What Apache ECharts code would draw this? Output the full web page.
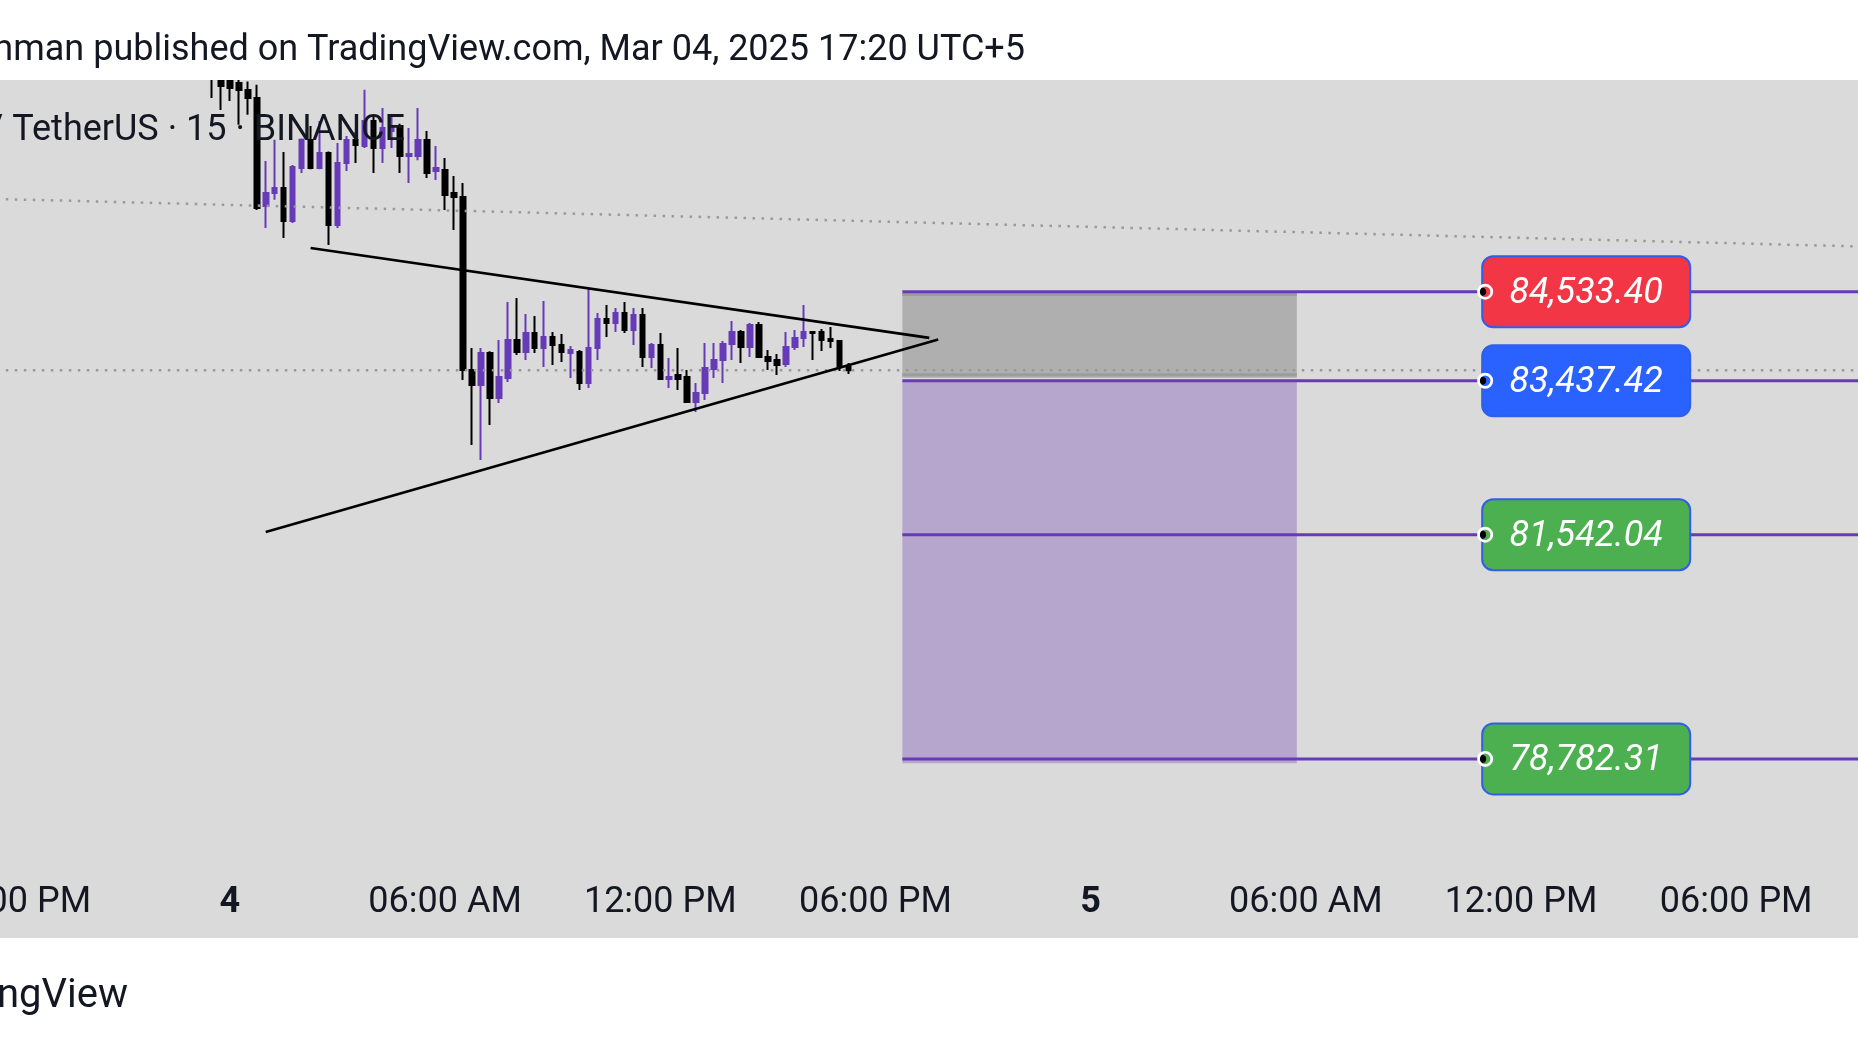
<!DOCTYPE html>
<html><head><meta charset="utf-8">
<script src="https://cdn.jsdelivr.net/npm/echarts@6/dist/echarts.min.js"></script>
<style>html,body{margin:0;padding:0;background:#fff;overflow:hidden}#c{width:1858px;height:1044px;}</style>
</head><body><div id="c"></div>
<script>
const FONT = 'Roboto, "Noto Sans", sans-serif';
const TEXT = '#131722';
// 15-minute slots of the time axis (exchange time UTC+5)
const slotStart = '2025-03-03 17:15';
const slotCount = 210;
// candles: [open, close, low, high], consecutive 15-min bars from candleStart
const candleStart = '2025-03-03 23:30';
const candles = [
  [87700,87350,86918,87800],[87400,87066,86770,87500],[87300,87041,86881,87380],[87102,87016,86589,87250],
  [87016,86918,86712,87120],[86918,85564,85539,87082],[85588,85748,85318,86142],[85748,85810,85666,86405],
  [85810,85404,85194,86253],[85404,86068,85380,86093],[86056,86405,85995,86420],[86401,86056,86040,86573],
  [86056,86241,86040,86635],[86241,85354,85108,86260],[85354,86118,85318,86364],[86118,86401,86019,86450],
  [86401,86339,86118,86500],[86327,86635,86302,87020],[86635,86302,85995,86700],[86302,86549,86118,86795],
  [86512,86549,86302,86712],[86573,86204,85995,86600],[86204,86229,85871,86549],[86204,86401,86150,86795],
  [86401,85995,85933,86512],[86019,86056,85908,86327],[86031,85724,85539,86179],[85748,85699,85293,85958],
  [85699,83570,83446,85872],[83570,83385,82646,83840],[83385,83779,82462,83840],[83779,83225,82892,83800],
  [83225,83483,83163,83939],[83471,83939,83422,84407],[83939,83791,83754,84456],[83791,84025,83693,84259],
  [84025,83840,83779,84234],[83840,83976,83606,84419],[83976,83877,83631,84037],[83877,83791,83668,84013],
  [83779,83816,83471,83865],[83791,83410,83323,83816],[83410,83840,83348,84579],[83840,84197,83693,84271],
  [84197,84148,83975,84370],[84148,84271,84037,84333],[84271,84062,84025,84407],[84062,84247,83877,84333],
  [84247,83730,83606,84333],[83730,83877,83594,83902],[83877,83459,83459,84025],[83459,83483,83348,83717],
  [83508,83459,83323,83840],[83483,83176,83163,83570],[83176,83286,83053,83410],[83286,83594,83200,83902],
  [83582,83693,83471,83902],[83693,83890,83410,83927],[83890,84037,83693,84172],[84037,83853,83656,84062],
  [83853,84123,83729,84148],[84123,83730,83720,84160],[83730,83680,83570,83816],[83693,83631,83508,83766],
  [83643,83853,83606,84037],[83853,83963,83816,84062],[83963,84037,83853,84370],[84037,84025,83693,84045],
  [84037,83939,83803,84074],[83951,83927,83840,84099],[83927,83606,83557,83935],[83606,83565,83520,83656]
];
const tickTimes = ['2025-03-03 18:00','2025-03-04 00:00','2025-03-04 06:00','2025-03-04 12:00','2025-03-04 18:00','2025-03-05 00:00','2025-03-05 06:00','2025-03-05 12:00','2025-03-05 18:00'];
const tickLabels = ['06:00 PM','4','06:00 AM','12:00 PM','06:00 PM','5','06:00 AM','12:00 PM','06:00 PM'];
const boldTickLabels = ['4','5'];
// drawings: [time, price]
const trendUpper = [['2025-03-04 02:15',85071],['2025-03-04 19:30',83965]];
const trendLower = [['2025-03-04 01:00',81575],['2025-03-04 19:45',83944]];
const dottedTrend = [['2025-03-03 17:15',85678],['2025-03-05 21:30',85089]];
const levelPrices = [84533.40, 83437.42, 81542.04, 78782.31];
const levelLabels = ['84,533.40','83,437.42','81,542.04','78,782.31'];
const levelColors = ['#f23645','#2962ff','#4caf50','#4caf50'];
const levelStart = '2025-03-04 18:45';
const levelEnd = '2025-03-05 21:30';
const labelAnchor = '2025-03-05 11:00';
const boxStart = '2025-03-04 18:45';
const boxEnd = '2025-03-05 05:45';
const stopBox = [84520, 83475];
const stopEdges = [84499, 83510];
const targetBox = [83430, 78728];
const yMin = 77414.5, yMax = 87139.4;

function parseT(s){const [a,b]=s.split(' ');const [Y,M,D]=a.split('-').map(Number);const [h,m]=b.split(':').map(Number);return Date.UTC(Y,M-1,D,h,m);}
function fmtT(ms){const d=new Date(ms);const p=n=>String(n).padStart(2,'0');return d.getUTCFullYear()+'-'+p(d.getUTCMonth()+1)+'-'+p(d.getUTCDate())+' '+p(d.getUTCHours())+':'+p(d.getUTCMinutes());}
const categories=[];
for(let k=0;k<slotCount;k++) categories.push(fmtT(parseT(slotStart)+k*900000));
const candleData = categories.map(()=>'-');
const c0 = categories.indexOf(candleStart);
candles.forEach((c,j)=>{candleData[c0+j]=c;});
const lastPrice = candles[candles.length-1][1];

const PURPLE = '#673ab7';
const dotted = {color:'#999999', width:2.5, type:[2.5,6.5]};
const RING = 'path://M0,-10A10,10,0,1,1,0,10A10,10,0,1,1,0,-10ZM0,-6.6A6.6,6.6,0,1,0,0,6.6A6.6,6.6,0,1,0,0,-6.6Z';
function lineSeries(data, style, z){
  return {type:'line', data, symbol:'none', silent:true, animation:false, z:z||3, lineStyle:style, clip:true};
}
const series = [];
series.push({
  type:'candlestick', data:candleData, barWidth:5, clip:true, z:2,
  itemStyle:{color:PURPLE, color0:'#000000', borderColor:PURPLE, borderColor0:'#000000', borderWidth:2},
  markArea:{silent:true, data:[
    [{coord:[boxStart, stopBox[0]], itemStyle:{color:'#afafaf'}},{coord:[boxEnd, stopBox[1]]}],
    [{coord:[boxStart, targetBox[0]], itemStyle:{color:'#b6a6cd'}},{coord:[boxEnd, targetBox[1]]}]
  ]}
});
stopEdges.forEach(p=>series.push(lineSeries([[boxStart,p],[boxEnd,p]],{color:'#9c9c9c',width:3},3)));
series.push(lineSeries(dottedTrend, dotted, 3));
series.push(lineSeries([[categories[0],lastPrice],[categories[slotCount-1],lastPrice]], dotted, 4));
series.push(lineSeries(trendUpper,{color:'#000',width:2.6},5));
series.push(lineSeries(trendLower,{color:'#000',width:2.6},5));
levelPrices.forEach(p=>series.push(lineSeries([[levelStart,p],[levelEnd,p]],{color:PURPLE,width:3},6)));
series.push({
  type:'scatter', silent:true, animation:false, z:8, symbolSize:0.1, itemStyle:{color:'rgba(0,0,0,0)', opacity:1},
  data: levelPrices.map((p,j)=>({value:[labelAnchor,p], label:{
    show:true, position:'right', distance:-2, opacity:1, formatter:'{v|'+levelLabels[j]+'}',
    backgroundColor:levelColors[j], borderColor:'#2f5fe6', borderWidth:2, borderRadius:10, padding:0,
    rich:{v:{width:206, height:69, lineHeight:69, padding:[4,0,0,0], align:'center', verticalAlign:'middle', color:'#ffffff', fontStyle:'italic', fontSize:36, fontFamily:FONT}}
  }}))
});
series.push({type:'scatter', silent:true, animation:false, z:9, symbol:'circle', symbolSize:8, symbolOffset:[-3,0],
  itemStyle:{color:'#000', opacity:1}, data:levelPrices.map(p=>[labelAnchor,p])});
series.push({type:'scatter', silent:true, animation:false, z:10, symbol:RING, symbolSize:16,
  itemStyle:{color:'#ffffff', opacity:1}, data:levelPrices.map(p=>[labelAnchor,p])});

const chart = echarts.init(document.getElementById('c'), null, {renderer:'canvas'});
chart.setOption({
  animation:false,
  backgroundColor:'#ffffff',
  grid:{left:-16.67, width:1882.86, top:80, height:790, containLabel:false, outerBoundsMode:'none'},
  xAxis:{type:'category', data:categories, boundaryGap:true,
    axisLine:{show:false}, axisTick:{show:false}, splitLine:{show:false},
    axisLabel:{show:true, margin:15, fontSize:36, fontFamily:FONT, color:TEXT, hideOverlap:false,
      interval:(idx,val)=>tickTimes.indexOf(val)>=0,
      formatter:(val)=>{const t=tickLabels[tickTimes.indexOf(val)];return boldTickLabels.indexOf(t)>=0?'{b|'+t+'}':t;},
      rich:{b:{fontWeight:'bold', fontSize:36, fontFamily:FONT, color:TEXT}}}},
  yAxis:{type:'value', min:yMin, max:yMax, show:false, scale:true, splitLine:{show:false}},
  graphic:[
    {type:'rect', z:-100, silent:true, shape:{x:0,y:80,width:1858,height:858}, style:{fill:'#dadada'}},
    {type:'rect', z:50, silent:true, shape:{x:0,y:0,width:1858,height:80}, style:{fill:'#ffffff'}},
    {type:'text', z:100, silent:true, x:1025, y:51, style:{text:'nman published on TradingView.com, Mar 04, 2025 17:20 UTC+5', align:'right', verticalAlign:'middle', fontSize:36, fontFamily:FONT, fill:TEXT}},
    {type:'text', z:100, silent:true, x:405, y:131, style:{text:'Bitcoin / TetherUS · 15 · BINANCE', align:'right', verticalAlign:'middle', fontSize:36, fontFamily:FONT, fill:TEXT}},
    {type:'text', z:100, silent:true, x:128, y:997, style:{text:'TradingView', align:'right', verticalAlign:'middle', fontSize:40, fontFamily:FONT, fill:TEXT}}
  ],
  series
});
</script></body></html>
